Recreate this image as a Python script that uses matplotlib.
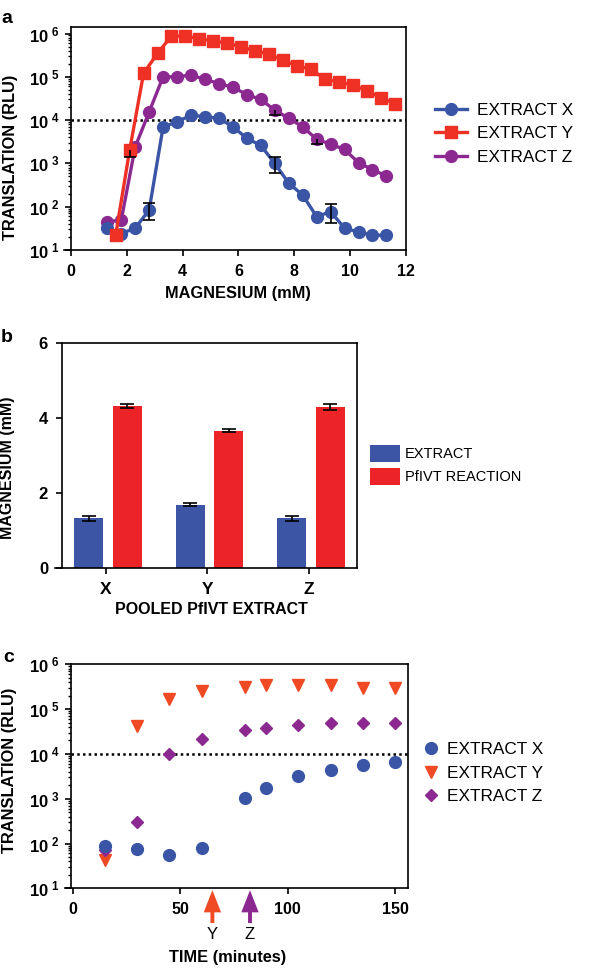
import numpy as np
import matplotlib
matplotlib.use('Agg')
import matplotlib.pyplot as plt
from matplotlib.ticker import LogLocator, NullFormatter

plt.rcParams['font.family'] = ['Liberation Sans', 'DejaVu Sans']
plt.rcParams['mathtext.fontset'] = 'custom'
plt.rcParams['mathtext.rm'] = 'Liberation Sans'
plt.rcParams['mathtext.bf'] = 'Liberation Sans:bold'

# ---- panel a: translation vs magnesium ----
mg_xz = [1.3, 1.8, 2.3, 2.8, 3.3, 3.8, 4.3, 4.8, 5.3, 5.8, 6.3, 6.8, 7.3, 7.8, 8.3, 8.8, 9.3, 9.8, 10.3, 10.8, 11.3]
mg_y = [1.6, 2.1, 2.6, 3.1, 3.6, 4.1, 4.6, 5.1, 5.6, 6.1, 6.6, 7.1, 7.6, 8.1, 8.6, 9.1, 9.6, 10.1, 10.6, 11.1, 11.6]
rlu_x = [32, 24, 32, 84, 7000, 9100, 13000, 12000, 11000, 7000, 3800, 2600, 1000, 350, 186, 59, 77, 32, 26, 22, 22]
rlu_y = [22, 2000, 1.2e5, 3.5e5, 8.7e5, 8.7e5, 7.6e5, 6.7e5, 6.0e5, 4.9e5, 4.0e5, 3.3e5, 2.4e5, 1.8e5, 1.5e5,
         8.8e4, 7.6e4, 6.4e4, 4.8e4, 3.3e4, 2.4e4]
rlu_z = [45, 49, 2400, 1.55e4, 1.0e5, 1.0e5, 1.1e5, 8.7e4, 7.0e4, 5.7e4, 3.9e4, 3.0e4, 1.7e4, 1.1e4, 7000,
         3600, 2800, 2100, 1040, 720, 510]

# error bars that are visible (low / high ends)
err_x_mg = [2.8, 7.3, 9.3]
err_x_val = [84, 1000, 77]
err_x_lo = [49, 610, 43]
err_x_hi = [123, 1420, 115]
# only the lower half shows for Y and Z
err_y_mg = [2.1]
err_y_val = [2000]
err_y_lo = [1380]
err_z_mg = [7.3, 8.8]
err_z_val = [1.7e4, 3600]
err_z_lo = [1.3e4, 2800]

# ---- panel b: optimal magnesium ----
extracts = ['X', 'Y', 'Z']
extract_mg = [1.32, 1.68, 1.32]
extract_err = [0.06, 0.04, 0.07]
reaction_mg = [4.32, 3.66, 4.30]
reaction_err = [0.06, 0.04, 0.07]

# ---- panel c: translation vs time ----
time_min = [15, 30, 45, 60, 80, 90, 105, 120, 135, 150]
time_x = [89, 75, 56, 79, 1030, 1730, 3170, 4300, 5600, 6600]
time_y = [43, 4.3e4, 1.7e5, 2.5e5, 3.1e5, 3.4e5, 3.5e5, 3.4e5, 2.9e5, 2.9e5]
time_z = [70, 300, 1.02e4, 2.2e4, 3.4e4, 3.8e4, 4.5e4, 4.8e4, 4.8e4, 5.0e4]
arrow_t = [65, 82.5]
arrow_lab = ['Y', 'Z']

threshold = 1e4

c_blue = '#3b55a6'
c_red = '#ee3124'
c_purple = '#8c2990'
c_orange = '#f04a25'
c_bar_blue = '#3c55a5'
c_bar_red = '#ec2427'

fig = plt.figure(figsize=(5.98, 9.68), dpi=100)


def log_axis(ax, top):
	ax.set_yscale('log')
	ax.set_ylim(10, top)
	ticks = [10.0 ** k for k in range(1, 7)]
	ax.set_yticks(ticks)
	ax.set_yticklabels([r'$\mathbf{10^{\ %d}}$' % k for k in range(1, 7)])
	ax.yaxis.set_minor_locator(LogLocator(base=10, subs=np.arange(2, 10)))
	ax.yaxis.set_minor_formatter(NullFormatter())
	ax.tick_params(axis='y', which='minor', length=2.5, width=1.0, direction='out')
	ax.tick_params(axis='y', which='major', labelsize=12, pad=4)


def style(ax):
	for s in ax.spines.values():
		s.set_linewidth(1.2)
	ax.tick_params(which='major', length=4, width=1.2, direction='out', labelsize=11.5)
	for lab in ax.get_xticklabels() + ax.get_yticklabels():
		lab.set_fontweight('bold')


# ===== a =====
ax1 = fig.add_axes([0.1187, 0.7417, 0.5602, 0.2304])
ax1.plot(mg_xz, rlu_z, '-o', color=c_purple, lw=2.4, ms=8.5, label='EXTRACT Z', zorder=2)
ax1.plot(mg_xz, rlu_x, '-o', color=c_blue, lw=2.4, ms=8.5, label='EXTRACT X', zorder=3)
ax1.plot(mg_y, rlu_y, '-s', color=c_red, lw=2.4, ms=8, label='EXTRACT Y', zorder=4)
ev = np.array(err_x_val)
ax1.errorbar(err_x_mg, ev, yerr=[ev - np.array(err_x_lo), np.array(err_x_hi) - ev], fmt='none',
             ecolor='black', elinewidth=1.2, capsize=4.5, capthick=1.2, zorder=5)
for ex, ev, lo in [(err_y_mg, err_y_val, err_y_lo), (err_z_mg, err_z_val, err_z_lo)]:
	ev = np.array(ev)
	eb = ax1.errorbar(ex, ev, yerr=[ev - np.array(lo), np.zeros(len(ev))], fmt='none',
	                  ecolor='black', elinewidth=1.2, capsize=4.5, capthick=1.2, zorder=5)
	eb[1][1].set_visible(False)
ax1.axhline(threshold, color='black', ls=(0, (1, 1.3)), lw=1.8, zorder=1)
ax1.set_xlim(0, 12)
ax1.set_xticks([0, 2, 4, 6, 8, 10, 12])
style(ax1)
log_axis(ax1, 10 ** 6.15)
ax1.tick_params(axis='x', pad=6)
ax1.spines['bottom'].set_bounds(-0.25, 12)
ax1.set_xlabel('MAGNESIUM (mM)', fontsize=11.8, fontweight='bold')
ax1.xaxis.set_label_coords(0.499, -0.193)
ax1.xaxis.label.set_va('center')
ax1.set_ylabel('TRANSLATION (RLU)', fontsize=11.8, fontweight='bold')
ax1.yaxis.set_label_coords(-0.182, 0.417)
ax1.yaxis.label.set_va('center')
h, l = ax1.get_legend_handles_labels()
order = [1, 2, 0]
fig.legend([h[i] for i in order], [l[i] for i in order], loc='center left',
           bbox_to_anchor=(0.7274, 0.8616), frameon=False, fontsize=12.4,
           handlelength=1.85, handletextpad=0.6, labelspacing=0.5, borderpad=0, borderaxespad=0)

# ===== b =====
ax2 = fig.add_axes([0.1037, 0.4135, 0.4933, 0.2318])
pos = np.arange(len(extracts))
ax2.bar(pos - 0.17, extract_mg, width=0.285, color=c_bar_blue, label='EXTRACT', zorder=2)
ax2.bar(pos + 0.21, reaction_mg, width=0.285, color=c_bar_red, label='PfIVT REACTION', zorder=2)
ax2.errorbar(pos - 0.17, extract_mg, yerr=extract_err, fmt='none', ecolor='black',
             elinewidth=1.2, capsize=5, capthick=1.2, zorder=3)
ax2.errorbar(pos + 0.21, reaction_mg, yerr=reaction_err, fmt='none', ecolor='black',
             elinewidth=1.2, capsize=5, capthick=1.2, zorder=3)
ax2.set_xlim(-0.433, 2.473)
ax2.set_ylim(0, 6)
ax2.set_yticks([0, 2, 4, 6])
ax2.set_xticks(pos)
ax2.set_xticklabels(extracts)
style(ax2)
ax2.tick_params(axis='x', pad=6, labelsize=12.5)
ax2.tick_params(axis='y', pad=6, labelsize=12)
ax2.spines['bottom'].set_bounds(-0.5, 2.473)
ax2.set_xlabel('POOLED PfIVT EXTRACT', fontsize=11.5, fontweight='bold')
ax2.xaxis.set_label_coords(0.507, -0.184)
ax2.xaxis.label.set_va('center')
ax2.set_ylabel('MAGNESIUM (mM)', fontsize=11.5, fontweight='bold')
ax2.yaxis.set_label_coords(-0.185, 0.444)
ax2.yaxis.label.set_va('center')
fig.legend(loc='center left', bbox_to_anchor=(0.6187, 0.5196), frameon=False, fontsize=10.5,
           handlelength=2.05, handleheight=1.37, handletextpad=0.35, labelspacing=0.45,
           borderpad=0, borderaxespad=0, handles=ax2.get_legend_handles_labels()[0])

# ===== c =====
ax3 = fig.add_axes([0.1187, 0.0823, 0.5635, 0.2314])
ax3.plot(time_min, time_y, 'v', color=c_orange, ms=8, ls='none', label='EXTRACT Y', zorder=2)
ax3.plot(time_min, time_z, 'D', color=c_purple, ms=6, ls='none', label='EXTRACT Z', zorder=3)
ax3.plot(time_min, time_x, 'o', color=c_blue, ms=8.5, ls='none', label='EXTRACT X', zorder=4)
ax3.axhline(threshold, color='black', ls=(0, (1, 1.3)), lw=1.8, zorder=1)
ax3.set_xlim(-0.8, 156)
ax3.set_xticks([0, 50, 100, 150])
style(ax3)
log_axis(ax3, 1e6)
ax3.tick_params(axis='x', pad=6)
ax3.spines['bottom'].set_bounds(-3.8, 156)
for t, lab, col in zip(arrow_t, arrow_lab, [c_orange, c_purple]):
	ax3.annotate('', xy=(t, -0.008), xytext=(t, -0.155), xycoords=('data', 'axes fraction'),
	             textcoords=('data', 'axes fraction'),
	             arrowprops=dict(width=2.8, headwidth=12.5, headlength=16, shrink=0,
	                             color=col, lw=0), annotation_clip=False)
	ax3.text(t, -0.208, lab, transform=ax3.get_xaxis_transform(), ha='center', va='center',
	         fontsize=12, clip_on=False)
ax3.set_xlabel('TIME (minutes)', fontsize=11.8, fontweight='bold')
ax3.xaxis.set_label_coords(0.466, -0.309)
ax3.xaxis.label.set_va('center')
ax3.set_ylabel('TRANSLATION (RLU)', fontsize=11.8, fontweight='bold')
ax3.yaxis.set_label_coords(-0.181, 0.528)
ax3.yaxis.label.set_va('center')
h, l = ax3.get_legend_handles_labels()
order = [2, 0, 1]
fig.legend([h[i] for i in order], [l[i] for i in order], loc='center left',
           bbox_to_anchor=(0.7057, 0.2014), frameon=False, fontsize=12.4,
           handlelength=1.0, handletextpad=0.45, labelspacing=0.5, borderpad=0, borderaxespad=0)

# panel letters
fig.text(0.003, 0.976, 'a', fontsize=14, fontweight='bold', va='baseline')
fig.text(0.002, 0.647, 'b', fontsize=14, fontweight='bold', va='baseline')
fig.text(0.005, 0.3164, 'c', fontsize=14, fontweight='bold', va='baseline')

fig.savefig('out.png', dpi=100)
plt.close()
